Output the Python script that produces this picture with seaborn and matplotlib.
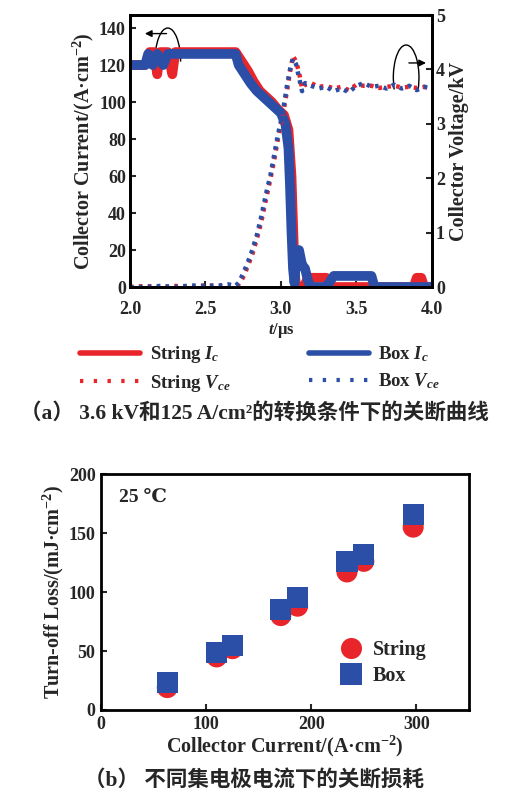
import numpy as np
import pandas as pd
import matplotlib
matplotlib.use("Agg")
import matplotlib.pyplot as plt
from matplotlib.lines import Line2D
from matplotlib.patches import Arc
import seaborn as sns

sns.set_theme(style="ticks")
plt.rcParams['font.family'] = ['Liberation Serif', 'Noto Sans CJK SC']
plt.rcParams['mathtext.fontset'] = 'custom'
plt.rcParams['mathtext.it'] = 'Liberation Serif:italic:bold'
plt.rcParams['mathtext.rm'] = 'Liberation Serif:bold'
plt.rcParams['font.weight'] = 'bold'

RED = "#e8252b"
BLUE = "#2b4fa6"

# ---- (a) turn-off waveforms ----
t_ic_box = [2.00, 2.05, 2.10, 2.12, 2.15, 2.18, 2.22, 2.25, 2.30, 2.40, 2.50, 2.60, 2.70,
            2.72, 2.76, 2.80, 2.84, 2.88, 2.92, 2.96, 3.00, 3.03, 3.05, 3.06, 3.07, 3.08,
            3.09, 3.10, 3.12, 3.14, 3.16, 3.18, 3.20, 3.30, 3.35, 3.40, 3.50, 3.60, 3.62,
            3.70, 3.80, 3.90, 4.00]
ic_box = [120, 120, 120, 126, 120, 126, 120, 126, 126, 126, 126, 126, 126,
          120, 115, 110, 106, 103, 100, 97, 94, 88, 75, 55, 30, 10,
          2, 15, 20, 12, 10, 3, 0, 0, 6, 6, 6, 6, 0,
          0, 0, 0, 0]

t_ic_str = [2.00, 2.10, 2.13, 2.16, 2.18, 2.20, 2.25, 2.28, 2.30, 2.40, 2.50, 2.60, 2.70,
            2.74, 2.78, 2.82, 2.86, 2.90, 2.94, 2.98, 3.02, 3.05, 3.07, 3.08, 3.09, 3.10,
            3.15, 3.18, 3.30, 3.32, 3.88, 3.90, 3.93, 3.95, 4.00]
ic_str = [120, 120, 127, 127, 115, 127, 127, 115, 127, 127, 127, 127, 127,
          122, 117, 111, 106, 103, 100, 96, 93, 85, 60, 35, 10, 0,
          0, 5, 5, 0, 0, 5, 5, 0, 0]

t_v = [2.00, 2.10, 2.20, 2.30, 2.40, 2.50, 2.60, 2.65, 2.70, 2.72, 2.75, 2.78, 2.81,
       2.84, 2.87, 2.90, 2.93, 2.96, 2.98, 3.00, 3.02, 3.04, 3.06, 3.08, 3.10, 3.12,
       3.14, 3.16, 3.20, 3.25, 3.30, 3.35, 3.40, 3.45, 3.50, 3.55, 3.60, 3.65, 3.70,
       3.75, 3.80, 3.85, 3.90, 3.95, 4.00]
v_box = [0.00, 0.00, 0.02, 0.00, 0.03, 0.02, 0.03, 0.05, 0.02, 0.08, 0.25, 0.45, 0.68,
         0.95, 1.30, 1.70, 2.05, 2.50, 2.80, 3.05, 3.35, 3.70, 4.00, 4.20, 4.10, 3.85,
         3.60, 3.75, 3.70, 3.65, 3.68, 3.60, 3.65, 3.58, 3.70, 3.75, 3.68, 3.70, 3.65,
         3.72, 3.65, 3.70, 3.62, 3.68, 3.65]
v_str = [0.00, 0.02, 0.00, 0.02, 0.00, 0.03, 0.02, 0.00, 0.04, 0.05, 0.18, 0.38, 0.60,
         0.88, 1.20, 1.60, 1.98, 2.40, 2.72, 2.98, 3.28, 3.60, 3.95, 4.25, 4.15, 3.95,
         3.65, 3.72, 3.75, 3.68, 3.70, 3.65, 3.68, 3.62, 3.72, 3.70, 3.70, 3.66, 3.68,
         3.70, 3.67, 3.68, 3.66, 3.68, 3.66]

# ---- (b) turn-off loss ----
current = [63, 110, 125, 171, 187, 234, 250, 297]
loss_string = [19, 45, 52, 80, 88, 117, 126, 155]
loss_box = [23, 49, 55, 85, 95, 126, 132, 166]

TICK_FS = 13
LAB_FS = 14.5

fig = plt.figure(figsize=(5.08, 7.94), dpi=100)

ax1 = fig.add_axes([0.256, 0.6385, 0.594, 0.3425])
ax2 = ax1.twinx()

df_ib = pd.DataFrame({"t": t_ic_box, "v": ic_box})
df_is = pd.DataFrame({"t": t_ic_str, "v": ic_str})
df_vb = pd.DataFrame({"t": t_v, "v": v_box})
df_vs = pd.DataFrame({"t": t_v, "v": v_str})

sns.lineplot(data=df_is, x="t", y="v", ax=ax1, color=RED, lw=7, sort=False)
sns.lineplot(data=df_ib, x="t", y="v", ax=ax1, color=BLUE, lw=7, sort=False)
sns.lineplot(data=df_vs, x="t", y="v", ax=ax2, color=RED, lw=3.2, sort=False,
             linestyle=(0, (0.8, 1.2)))
sns.lineplot(data=df_vb, x="t", y="v", ax=ax2, color=BLUE, lw=3.2, sort=False,
             linestyle=(0, (0.8, 1.2)))

ax1.set_xlim(2.0, 4.0)
ax1.set_ylim(0, 147)
ax2.set_ylim(0, 5)
ax1.set_xticks([2.0, 2.5, 3.0, 3.5, 4.0])
ax1.set_xticklabels(["2.0", "2.5", "3.0", "3.5", "4.0"])
ax1.set_yticks(range(0, 141, 20))
ax2.set_yticks(range(0, 6))
for ax in (ax1, ax2):
    ax.tick_params(direction='in', labelsize=TICK_FS, width=1.5, length=4, pad=3)
    for s in ax.spines.values():
        s.set_linewidth(2)
        s.set_color('black')
ax1.tick_params(axis='x', pad=10)
ax1.set_xlabel("$t$/μs", fontsize=12, labelpad=2, fontweight='bold')
ax1.set_ylabel("Collector Current/(A·cm$^{-2}$)", fontsize=LAB_FS, labelpad=2, fontweight='bold')
ax2.set_ylabel("Collector Voltage/kV", fontsize=LAB_FS, labelpad=3, fontweight='bold')

# annotation arrows
ax1.add_patch(Arc((2.25, 122), 0.17, 36, theta1=-60, theta2=250, color='black', lw=1))
ax1.annotate("", xy=(2.08, 137), xytext=(2.26, 137),
             arrowprops=dict(arrowstyle='-|>', color='black', lw=1, mutation_scale=10))
ax2.add_patch(Arc((3.83, 3.85), 0.17, 1.2, theta1=-70, theta2=250, color='black', lw=1))
ax2.annotate("", xy=(3.98, 4.12), xytext=(3.83, 4.12),
             arrowprops=dict(arrowstyle='-|>', color='black', lw=1, mutation_scale=10))

handles = [Line2D([], [], color=RED, lw=4),
           Line2D([], [], color=RED, lw=3, linestyle=(0, (0.8, 2.5))),
           Line2D([], [], color=BLUE, lw=4),
           Line2D([], [], color=BLUE, lw=3, linestyle=(0, (0.8, 2.5)))]
labels = ["String $I_c$", "String $V_{ce}$", "Box $I_c$", "Box $V_{ce}$"]
fig.legend(handles, labels, loc='center', bbox_to_anchor=(0.512, 1 - 369 / 794), ncol=2,
           frameon=False, fontsize=13.5, handlelength=3.2, columnspacing=4.2,
           handletextpad=0.5, labelspacing=0.4)

fig.text(0.5, 1 - 413 / 794, "（a） 3.6 kV和125 A/cm²的转换条件下的关断曲线",
         ha='center', va='center', fontsize=15.5, fontweight='bold')

# ---- bottom chart ----
ax3 = fig.add_axes([0.199, 0.1058, 0.724, 0.2972])
df_b = pd.DataFrame({
    "current": current * 2,
    "loss": loss_string + loss_box,
    "type": ["String"] * len(current) + ["Box"] * len(current),
})
sns.scatterplot(data=df_b, x="current", y="loss", hue="type", style="type",
                palette={"String": RED, "Box": BLUE}, markers={"String": "o", "Box": "s"},
                s=230, linewidth=0, ax=ax3)
ax3.set_xlim(0, 350)
ax3.set_ylim(0, 200)
ax3.set_xticks([0, 100, 200, 300])
ax3.set_yticks([0, 50, 100, 150, 200])
ax3.set_xlabel("Collector Current/(A·cm$^{-2}$)", fontsize=LAB_FS, labelpad=1, fontweight='bold')
ax3.set_ylabel("Turn-off Loss/(mJ·cm$^{-2}$)", fontsize=LAB_FS, labelpad=2, fontweight='bold')
ax3.tick_params(direction='in', labelsize=TICK_FS, width=1.5, length=4, pad=4)
for s in ax3.spines.values():
    s.set_linewidth(2)
    s.set_color('black')
ax3.text(0.05, 0.9, "25 ℃", transform=ax3.transAxes, fontsize=14, fontweight='bold',
         va='center', ha='left', family=['Liberation Serif', 'DejaVu Serif'])
leg = ax3.legend(loc='center left', bbox_to_anchor=(0.575, 0.2), frameon=False,
                 fontsize=14.5, handletextpad=0.1, labelspacing=0.3, markerscale=1.0)

fig.text(0.5, 1 - 780 / 794, "（b） 不同集电极电流下的关断损耗",
         ha='center', va='center', fontsize=15.5)

fig.savefig("out.png", dpi=100)
